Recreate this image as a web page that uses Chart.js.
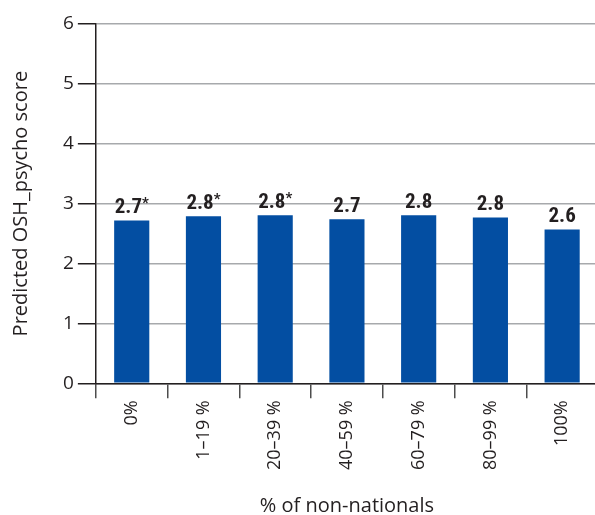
<!DOCTYPE html>
<html>
<head>
<meta charset="utf-8">
<script src="https://cdn.jsdelivr.net/npm/chart.js@4/dist/chart.umd.min.js"></script>
<style>
  html, body { margin: 0; padding: 0; background: #fff; overflow: hidden; }
  #wrap { width: 595px; height: 515px; overflow: hidden; position: relative; }
  #box { width: 598px; height: 515px; position: absolute; left: 0; top: 0; }
</style>
</head>
<body>
<div id="wrap"><div id="box"><canvas id="c"></canvas></div></div>
<script>
const categories = ['0%', '1\u201319 %', '20\u201339 %', '40\u201359 %', '60\u201379 %', '80\u201399 %', '100%'];
const scores = [2.72, 2.79, 2.805, 2.74, 2.805, 2.77, 2.57];
const valueLabels = ['2.7', '2.8', '2.8', '2.7', '2.8', '2.8', '2.6'];
const significant = [true, true, true, false, false, false, false];
const yTicks = [0, 1, 2, 3, 4, 5, 6];

const BLUE = '#034ea2';
const FONT = "'Open Sans', 'Noto Sans', sans-serif";
const LABEL_FONT = "'Liberation Sans Narrow', 'Roboto Condensed', 'Open Sans', sans-serif";

const valueLabelPlugin = {
  id: 'valueLabels',
  afterDatasetsDraw(chart) {
    const ctx = chart.ctx;
    const meta = chart.getDatasetMeta(0);
    ctx.save();
    ctx.fillStyle = '#231f20';
    ctx.textBaseline = 'alphabetic';
    meta.data.forEach((bar, i) => {
      const txt = valueLabels[i];
      ctx.font = 'bold 21px ' + LABEL_FONT;
      const w = ctx.measureText(txt).width;
      let starW = 0;
      if (significant[i]) {
        ctx.font = 'bold 15px ' + LABEL_FONT;
        starW = ctx.measureText('*').width;
      }
      const total = w + starW;
      const x0 = bar.x - total / 2;
      const yb = bar.y - 7;
      ctx.font = 'bold 21px ' + LABEL_FONT;
      ctx.textAlign = 'left';
      ctx.fillText(txt, x0, yb);
      if (significant[i]) {
        ctx.font = 'bold 15px ' + LABEL_FONT;
        ctx.fillText('*', x0 + w, yb - 5);
      }
    });
    ctx.restore();
  }
};

new Chart(document.getElementById('c'), {
  type: 'bar',
  data: {
    labels: categories,
    datasets: [{
      data: scores,
      backgroundColor: BLUE,
      borderWidth: 0,
      barPercentage: 0.49,
      categoryPercentage: 1.0
    }]
  },
  options: {
    responsive: true,
    maintainAspectRatio: false,
    animation: false,
    layout: { padding: { top: 24, right: 0, left: 9, bottom: -3 } },
    plugins: {
      legend: { display: false },
      tooltip: { enabled: false }
    },
    scales: {
      x: {
        offset: true,
        grid: {
          offset: true,
          drawOnChartArea: false,
          drawTicks: true,
          tickLength: 15,
          tickColor: '#4d4d4d',
          lineWidth: 1.5
        },
        border: { color: '#231f20', width: 1.5 },
        ticks: {
          minRotation: 90,
          maxRotation: 90,
          autoSkip: false,
          color: '#231f20',
          padding: 2,
          font: { family: FONT, size: 18 }
        },
        title: {
          display: true,
          text: '% of non-nationals',
          color: '#231f20',
          font: { family: FONT, size: 20 },
          padding: { top: 22, bottom: 0 }
        }
      },
      y: {
        min: 0,
        max: 6,
        afterBuildTicks(axis) { axis.ticks = yTicks.map(v => ({ value: v })); },
        grid: {
          color: '#a7a9ac',
          lineWidth: 1.5,
          drawTicks: true,
          tickLength: 18,
          tickColor: '#231f20'
        },
        border: { color: '#231f20', width: 1.5 },
        ticks: {
          color: '#231f20',
          padding: 4,
          font: { family: FONT, size: 19 }
        },
        title: {
          display: true,
          text: 'Predicted OSH_psycho score',
          color: '#231f20',
          font: { family: FONT, size: 20 },
          padding: { top: 0, bottom: 26 }
        }
      }
    }
  },
  plugins: [valueLabelPlugin]
});
</script>
</body>
</html>
